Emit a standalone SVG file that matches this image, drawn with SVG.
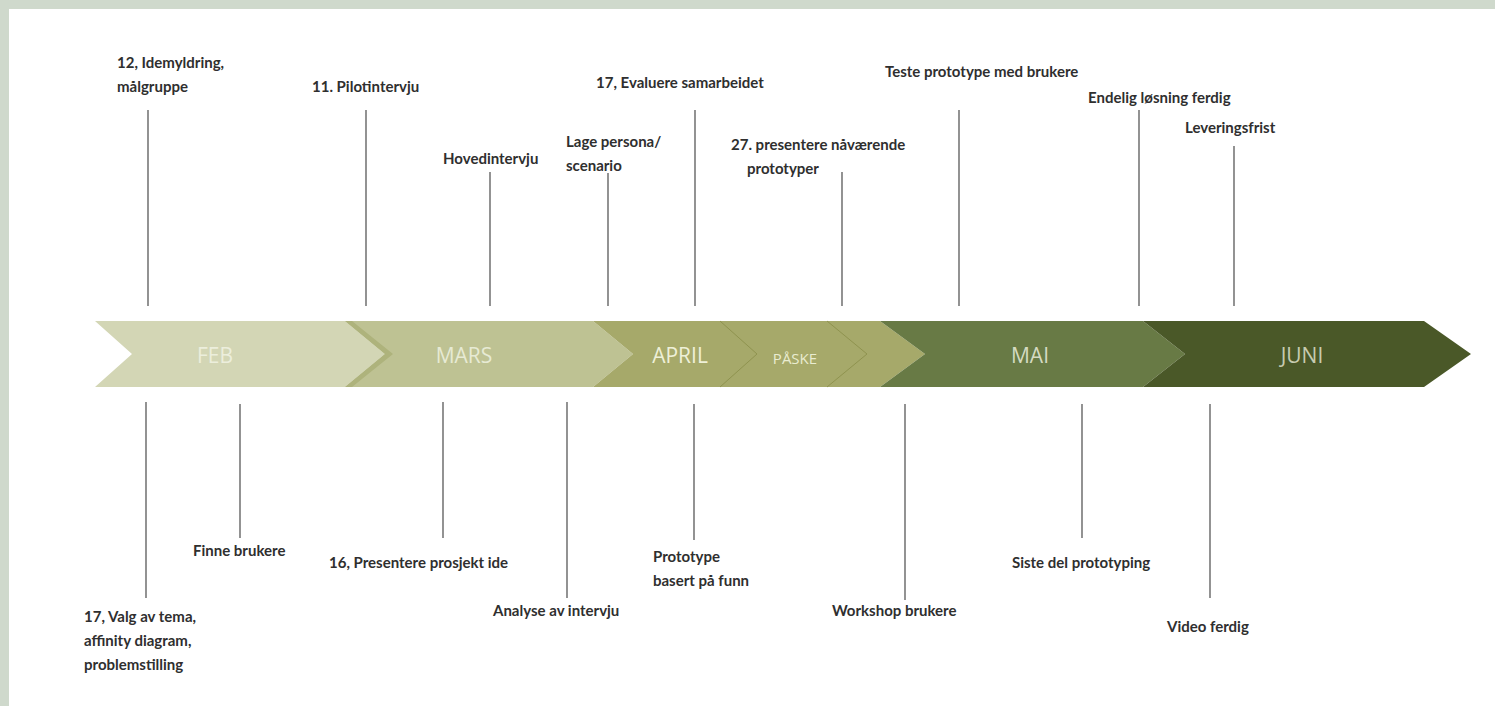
<svg xmlns="http://www.w3.org/2000/svg" width="1495" height="706" viewBox="0 0 1495 706">
<style>
.lbl{font-family:Lato,"Liberation Sans",sans-serif;font-weight:700;font-size:15px;fill:#2f2f2f}
.tick{stroke:#4a4a4a;stroke-width:1.2;fill:none}
.mon{font-family:"Open Sans","Liberation Sans",sans-serif;font-size:21px;text-anchor:middle}
.chev{fill:none;stroke:#8f934f;stroke-width:1}
</style>
<rect x="0" y="0" width="1495" height="706" fill="#cfd9cc"/>
<rect x="9" y="9" width="1486" height="697" fill="#ffffff"/>

<g id="band">
  <polygon id="feb" points="95,321 345,321 385,354 345,387 95,387 132,354" fill="#d3d6b5"/>
  <polygon id="mars" points="345,321 593,321 633,354 593,387 345,387 385,354" fill="#bec293"/>
  <polygon points="345,321 352,321 393,354 352,387 345,387 385,354" fill="#aeb37c"/>
  <polygon id="april" points="593,321 880,321 925,354 880,387 593,387 633,354" fill="#a6a96a"/>
  <polyline class="chev" points="720,321 757,354 720,387"/>
  <polyline class="chev" points="827,321 867,354 827,387"/>
  <polygon id="mai" points="880,321 1143,321 1185,354 1143,387 880,387 925,354" fill="#687a45"/>
  <polygon id="juni" points="1143,321 1424,321 1471,354 1424,387 1143,387 1185,354" fill="#4a5828"/>
  <text class="mon" x="215" y="363" fill="#eceedc">FEB</text>
  <text class="mon" x="464" y="363" fill="#e7ead4">MARS</text>
  <text class="mon" x="680" y="363" fill="#eef0d8">APRIL</text>
  <text class="mon" x="795" y="364" fill="#e9ecd0" style="font-size:15px">PÅSKE</text>
  <text class="mon" x="1030" y="363" fill="#d5dac2">MAI</text>
  <text class="mon" x="1302" y="363" fill="#c6cbb0">JUNI</text>
</g>

<g id="connectors">
  <line class="tick" x1="148" y1="110" x2="148" y2="306"/>
  <line class="tick" x1="366" y1="110" x2="366" y2="306"/>
  <line class="tick" x1="490" y1="172" x2="490" y2="306"/>
  <line class="tick" x1="608" y1="173" x2="608" y2="306"/>
  <line class="tick" x1="695" y1="110" x2="695" y2="306"/>
  <line class="tick" x1="842" y1="172" x2="842" y2="306"/>
  <line class="tick" x1="959" y1="110" x2="959" y2="306"/>
  <line class="tick" x1="1139" y1="110" x2="1139" y2="306"/>
  <line class="tick" x1="1234" y1="146" x2="1234" y2="306"/>
  <line class="tick" x1="146" y1="402" x2="146" y2="598"/>
  <line class="tick" x1="240" y1="404" x2="240" y2="538"/>
  <line class="tick" x1="443" y1="402" x2="443" y2="538"/>
  <line class="tick" x1="567" y1="402" x2="567" y2="598"/>
  <line class="tick" x1="694" y1="404" x2="694" y2="540"/>
  <line class="tick" x1="905" y1="404" x2="905" y2="600"/>
  <line class="tick" x1="1082" y1="404" x2="1082" y2="538"/>
  <line class="tick" x1="1210" y1="404" x2="1210" y2="598"/>
</g>

<g id="n-idemyldring"><text class="lbl" x="117" y="68">12, Idemyldring,</text><text class="lbl" x="117" y="92">målgruppe</text></g>
<g id="n-pilot"><text class="lbl" x="312" y="92">11. Pilotintervju</text></g>
<g id="n-hoved"><text class="lbl" x="443" y="164">Hovedintervju</text></g>
<g id="n-persona"><text class="lbl" x="566" y="147">Lage persona/</text><text class="lbl" x="566" y="171">scenario</text></g>
<g id="n-evaluere"><text class="lbl" x="596" y="88">17, Evaluere samarbeidet</text></g>
<g id="n-presentere27"><text class="lbl" x="731" y="150">27. presentere nåværende</text><text class="lbl" x="747" y="174">prototyper</text></g>
<g id="n-teste"><text class="lbl" x="885" y="77">Teste prototype med brukere</text></g>
<g id="n-endelig"><text class="lbl" x="1088" y="103">Endelig løsning ferdig</text></g>
<g id="n-levering"><text class="lbl" x="1185" y="133">Leveringsfrist</text></g>

<g id="n-valg"><text class="lbl" x="84" y="622">17, Valg av tema,</text><text class="lbl" x="84" y="646">affinity diagram,</text><text class="lbl" x="84" y="670">problemstilling</text></g>
<g id="n-finne"><text class="lbl" x="193" y="556">Finne brukere</text></g>
<g id="n-presentere16"><text class="lbl" x="329" y="568">16, Presentere prosjekt ide</text></g>
<g id="n-analyse"><text class="lbl" x="493" y="616">Analyse av intervju</text></g>
<g id="n-prototype"><text class="lbl" x="653" y="562">Prototype</text><text class="lbl" x="653" y="586">basert på funn</text></g>
<g id="n-workshop"><text class="lbl" x="832" y="616">Workshop brukere</text></g>
<g id="n-siste"><text class="lbl" x="1012" y="568">Siste del prototyping</text></g>
<g id="n-video"><text class="lbl" x="1167" y="632">Video ferdig</text></g>
</svg>
